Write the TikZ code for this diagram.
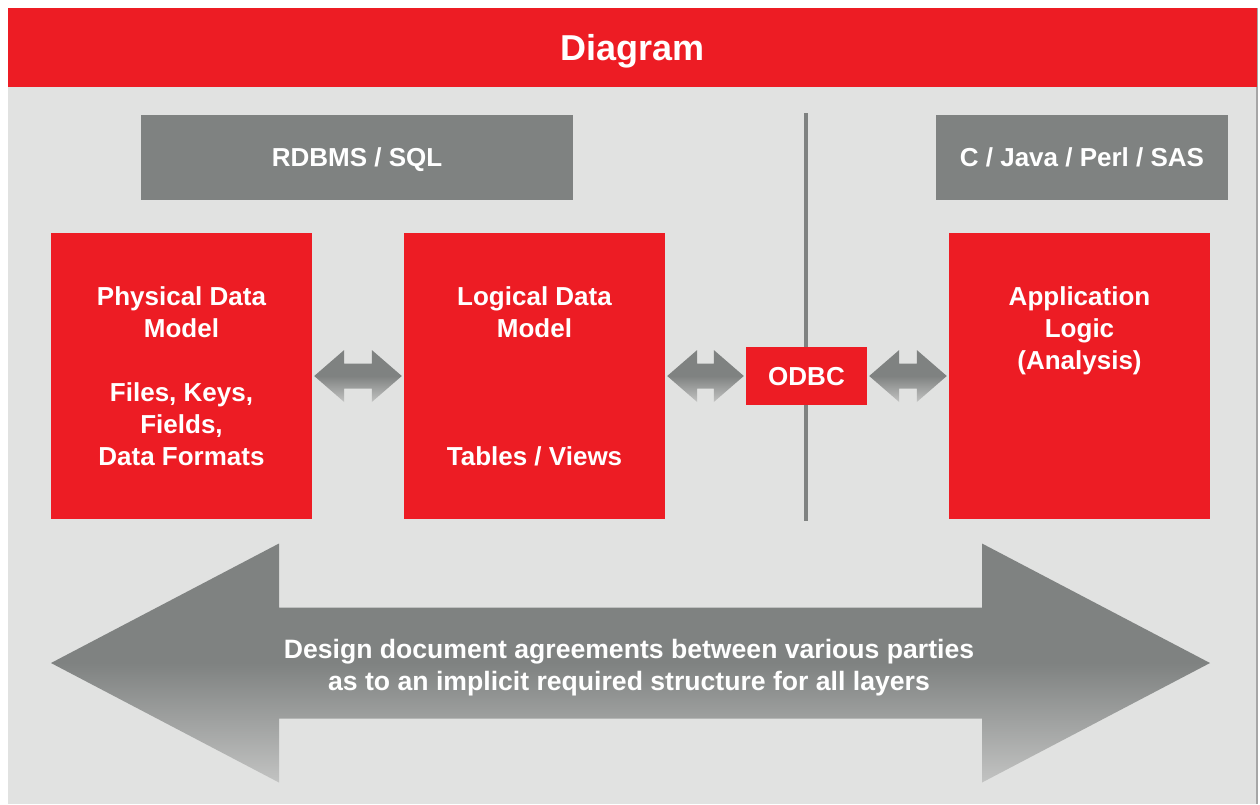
\documentclass[tikz,border=0pt]{standalone}
\usepackage{fontspec}
\setmainfont{Liberation Sans}
\usetikzlibrary{calc}
\definecolor{diagred}{HTML}{ED1C24}
\definecolor{panelgray}{HTML}{E1E2E1}
\definecolor{boxgray}{HTML}{7F8281}
\definecolor{fadegray}{HTML}{C2C3C2}

\begin{document}
\begin{tikzpicture}[x=1pt,y=-1pt]
    \tikzstyle{every node}=[font=\bfseries\fontsize{26}{32}\selectfont, text=white, inner sep=0pt]
    \tikzstyle{layer}=[rectangle, fill=diagred, minimum width=261pt, minimum height=286pt, align=center]
    \tikzstyle{oneline}=[text height=18.7pt, text depth=0pt]
    \tikzstyle{tool}=[rectangle, oneline, fill=boxgray, minimum height=85pt]
    \tikzstyle{link}=[top color=boxgray, bottom color=fadegray, middle color=boxgray]

    \useasboundingbox (0,0) rectangle (1260,804);

    % Draw the panel and the title band
    \fill[panelgray] (8,8) rectangle (1257,804);
    \draw[gray!70, line width=2pt] (1257,8) -- (1257,804);
    \node[fill=diagred, minimum width=1249pt, minimum height=79pt, text height=25.8pt, text depth=0pt, font=\bfseries\fontsize{36}{40}\selectfont] (title) at (632.5,47.5) {Diagram};

    % Draw the tool boxes
    \node[tool, minimum width=432pt] (rdbms) at (357,157.5) {RDBMS / SQL};
    \node[tool, minimum width=292pt] (lang) at (1082,157.5) {C / Java / Perl / SAS};

    % Divider between the data side and the application side
    \coordinate (divtop) at (806,113);
    \coordinate (divbot) at (806,521);
    \draw[boxgray, line width=4pt] (divtop) -- (divbot);

    % Draw the layer boxes
    \node[layer] (phys) at (181.5,376) {Physical Data\\Model\\~\\Files, Keys,\\Fields,\\Data Formats};
    \node[layer] (logic) at (534.5,376) {Logical Data\\Model\\~\\~\\~\\Tables / Views};
    \node[layer] (app) at (1079.5,376) {Application\\Logic\\(Analysis)\\~\\~\\~};
    \node[oneline, fill=diagred, minimum width=121pt, minimum height=58pt] (odbc) at (806.5,376) {ODBC};

    % Connect neighbouring boxes with double arrows
    \foreach \from/\to in {phys/logic, logic/odbc, odbc/app}
        \path[link] let \p1=($(\from.east)+(2,0)$), \p2=($(\to.west)+(-2,0)$), \n1={\x2-\x1-60pt} in
            (\p1) -- ++(30,-26) -- ++(0,13.5) -- ++(\n1,0) -- ++(0,-13.5) -- ++(30,26)
            -- ++(-30,26) -- ++(0,-13.5) -- ++(-\n1,0) -- ++(0,13.5) -- cycle;

    % The wide arrow spanning all layers
    \coordinate (spanL) at (51,663);
    \coordinate (spanR) at (1210,663);
    \path[link] let \p1=(spanL), \p2=(spanR), \n1={\x2-\x1-456pt} in
        (\p1) -- ++(228,-119.5) -- ++(0,64) -- ++(\n1,0) -- ++(0,-64) -- ++(228,119.5)
        -- ++(-228,119.5) -- ++(0,-64) -- ++(-\n1,0) -- ++(0,64) -- cycle;
    \node[align=center, font=\bfseries\fontsize{26.6}{32}\selectfont] (agree) at (629,668) {Design document agreements between various parties\\as to an implicit required structure for all layers};
\end{tikzpicture}
\end{document}
